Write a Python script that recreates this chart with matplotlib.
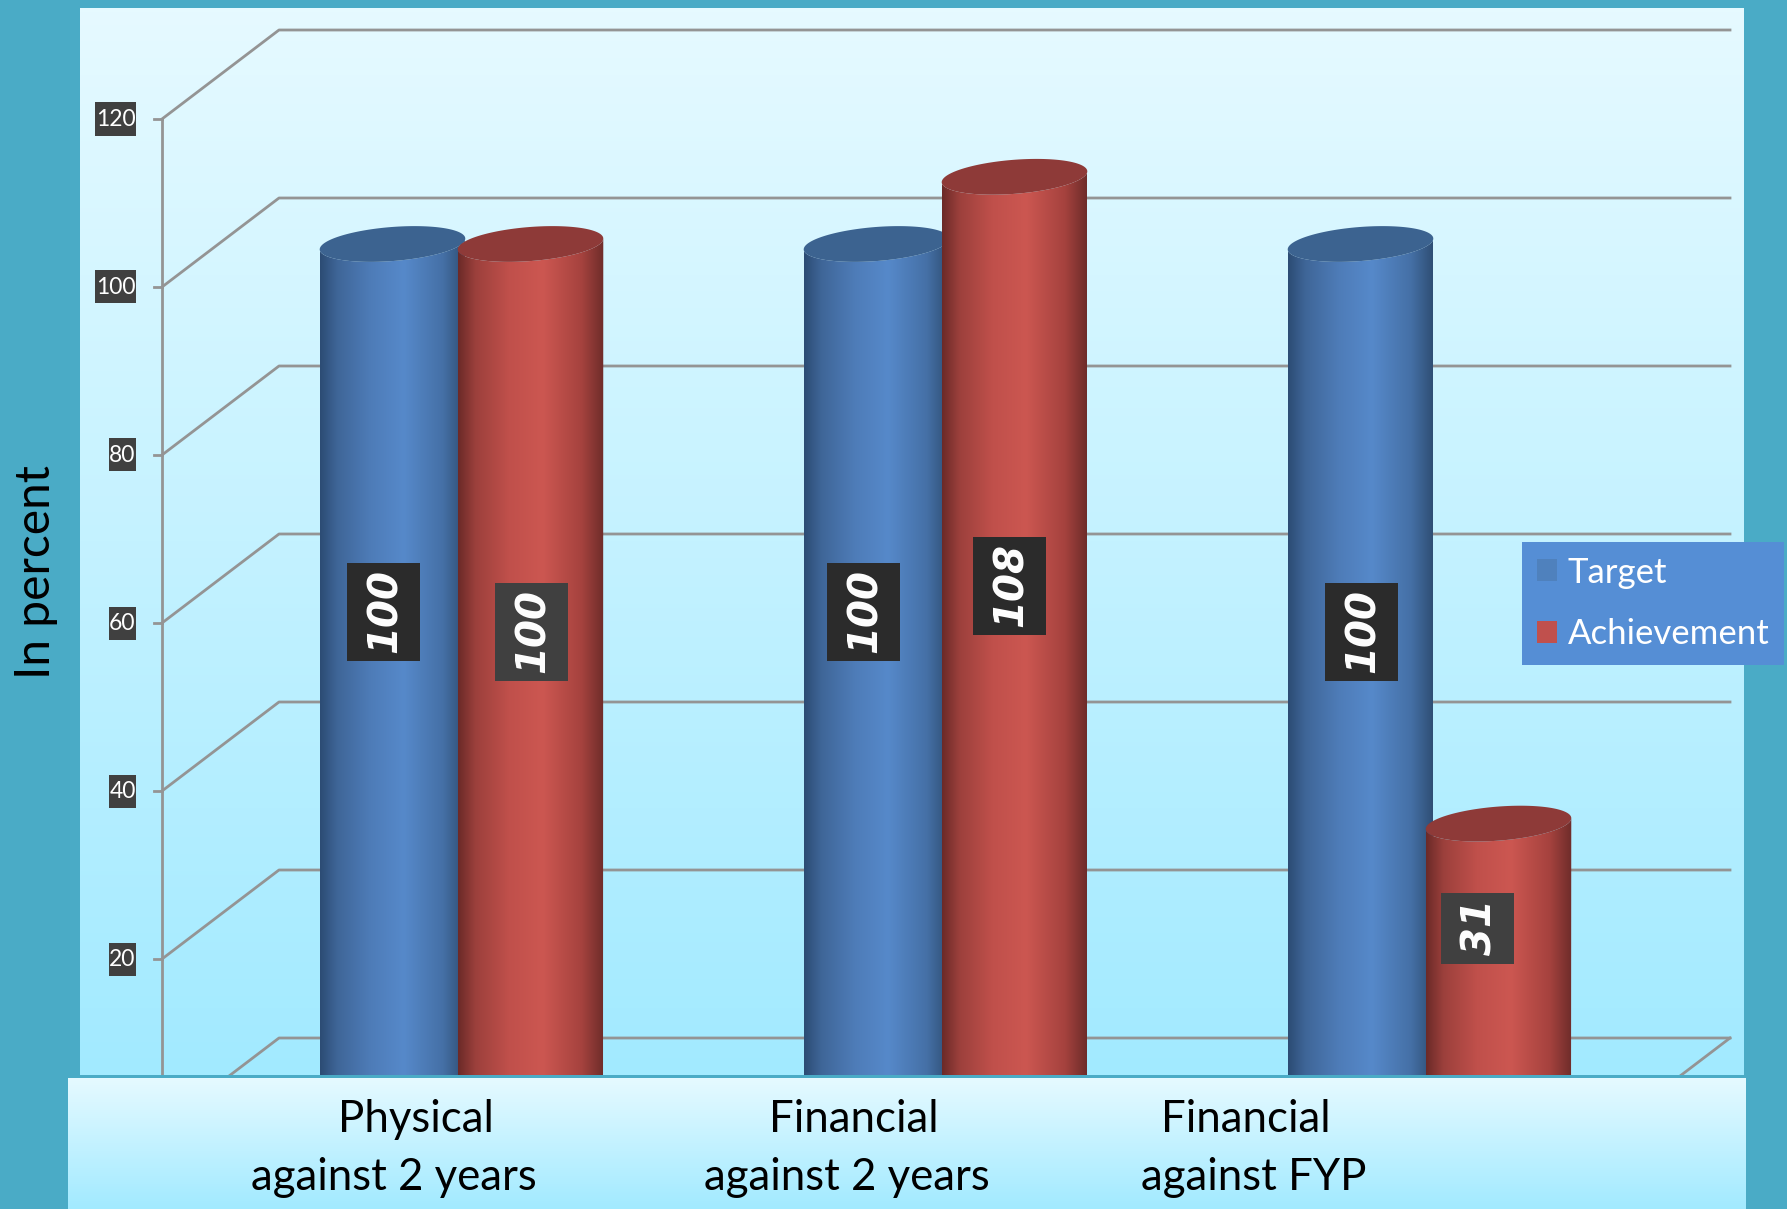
import numpy as np
import matplotlib
matplotlib.use('Agg')
import matplotlib.pyplot as plt
from matplotlib.colors import LinearSegmentedColormap
from matplotlib.patches import Patch, Polygon, Rectangle

categories = [('Physical', 'against 2 years'), ('Financial', 'against 2 years'), ('Financial', 'against FYP')]
target = [100, 100, 100]
achievement = [100, 108, 31]
ticks = [20, 40, 60, 80, 100, 120]
grid_levels = [0, 20, 40, 60, 80, 100, 120]
series_names = ['Target', 'Achievement']
ylabel = 'In percent'

W, H = 1787, 1209
PX_GROUP = 484.0     # pixels between groups
PX_UNIT = 8.4        # pixels for one percent
X0_PX = 461.5        # pixel centre of first group
Y0_PX = 1127.0       # front plane zero
BAR_W = 145 / PX_GROUP
BAR_OFF = 69 / PX_GROUP
MID_DY = 43 / PX_UNIT   # bars stand half way into the depth
BACK_DY = 89 / PX_UNIT

plt.rcParams['font.family'] = ['Lato', 'DejaVu Sans']

fig = plt.figure(figsize=(W / 100, H / 100), dpi=100, facecolor='#4AABC6')

panel_cm = LinearSegmentedColormap.from_list('panel', ['#E6FAFF', '#A2EAFF'])
blue_cm = LinearSegmentedColormap.from_list('blue', [(0, '#2C4C74'), (0.12, '#3F6698'), (0.35, '#4E7CB8'),
                                                     (0.58, '#5689CA'), (0.85, '#4570A6'), (1, '#2F4F75')])
red_cm = LinearSegmentedColormap.from_list('red', [(0, '#6B2A28'), (0.12, '#9C403C'), (0.35, '#C0504B'),
                                                   (0.58, '#CC5751'), (0.85, '#A5423E'), (1, '#6E2C2A')])
grad = np.linspace(0, 1, 256)

# background panel, pixel coordinates
bg = fig.add_axes([0, 0, 1, 1], zorder=1)
bg.axis('off')
bg.imshow(grad.reshape(-1, 1), cmap=panel_cm, extent=(80, 1744, 1075, 8), aspect='auto', vmin=0, vmax=1)
bg.set_xlim(0, W)
bg.set_ylim(H, 0)

# chart, x in groups and y in percent
ax = fig.add_axes([0, 0, 1, 1], zorder=2)
ax.patch.set_alpha(0)
ax.axis('off')
xlim = (-X0_PX / PX_GROUP, (W - X0_PX) / PX_GROUP)
ylim = ((Y0_PX - H) / PX_UNIT, Y0_PX / PX_UNIT)

grid_c = '#949494'
x_front = (162 - X0_PX) / PX_GROUP
x_back = (279 - X0_PX) / PX_GROUP
x_right = (1730 - X0_PX) / PX_GROUP
for lev in grid_levels:
    ax.plot([x_front, x_back, x_right], [lev, lev + BACK_DY, lev + BACK_DY], color=grid_c, lw=2, zorder=1)
ax.plot([x_right, x_right - 117 / PX_GROUP], [BACK_DY, 0], color=grid_c, lw=2, zorder=1)
ax.plot([x_front, x_front], [0, ticks[-1]], color=grid_c, lw=2, zorder=1)
for t in ticks:
    ax.plot([x_front - 8 / PX_GROUP, x_front], [t, t], color=grid_c, lw=2, zorder=1)
    # dark box behind each tick label
    box_w = (41 if t >= 100 else 27) / PX_GROUP
    box_r = x_front - 26 / PX_GROUP
    ax.add_patch(Rectangle((box_r - box_w, t - 16.5 / PX_UNIT), box_w, 33 / PX_UNIT,
                           facecolor='#404040', edgecolor='none', zorder=4))
    ax.text(box_r - box_w / 2, t - 0.1, str(t), color='white', fontsize=16.5, ha='center', va='center', zorder=5)


def top_ellipse(xc, val):
    t = np.linspace(0, 2 * np.pi, 181)
    a, b, th = 73.0, 17.0, np.radians(4.5)
    ex = a * np.cos(t) * np.cos(th) + b * np.sin(t) * np.sin(th)
    ey = -a * np.cos(t) * np.sin(th) + b * np.sin(t) * np.cos(th)
    return xc + ex / PX_GROUP, val + MID_DY - ey / PX_UNIT


def cylinder(xc, val, cmap, top_color, z):
    ex, ey = top_ellipse(xc, val)
    left, right = xc - BAR_W / 2, xc + BAR_W / 2
    im = ax.imshow(grad.reshape(1, -1), cmap=cmap, aspect='auto', zorder=z, vmin=0, vmax=1,
                   extent=(left, right, 0, val + MID_DY + 4))
    # body ends on the lower arc of the top ellipse
    pts = np.column_stack([ex, ey])
    i_l, i_r = np.argmin(ex[:-1]), np.argmax(ex[:-1])
    n = len(ex) - 1
    order = np.arange(i_r, i_l + n + 1) % n if i_l < i_r else np.arange(i_r, i_l + 1)
    arc = pts[order]
    if arc[:, 1].mean() > val + MID_DY:
        arc = pts[np.arange(i_l, i_r + n + 1) % n][::-1]
    body = np.vstack([[right, 0], arc, [left, 0]])
    clip = Polygon(body, closed=True, transform=ax.transData, facecolor='none', edgecolor='none')
    ax.add_patch(clip)
    im.set_clip_path(clip)
    ax.add_patch(Polygon(pts, closed=True, facecolor=top_color, edgecolor='none', zorder=z + 0.1))


for i in range(len(categories)):
    cylinder(i - BAR_OFF, target[i], blue_cm, '#3C6390', 2 + i)
for i in range(len(categories)):
    cylinder(i + BAR_OFF, achievement[i], red_cm, '#8E3A38', 2.5 + i)

ax.set_xlim(xlim)
ax.set_ylim(ylim)

# bottom panel, labels and legend sit over the bars
front = fig.add_axes([0, 0, 1, 1], zorder=3)
front.patch.set_alpha(0)
front.axis('off')
front.imshow(grad.reshape(-1, 1), cmap=panel_cm, extent=(68, 1746, 1209, 1077), aspect='auto', vmin=0, vmax=1)
front.add_patch(Rectangle((68, 1075), 1678, 2.5, facecolor='#4AABC6', edgecolor='none'))
front.set_xlim(0, W)
front.set_ylim(H, 0)

label_xy = [(383, 612), (531, 632), (863, 612), (1009, 586), (1361, 632), (1477, 928)]
label_vals = [target[0], achievement[0], target[1], achievement[1], target[2], achievement[2]]
label_bg = ['#2B2B2B', '#404040', '#2B2B2B', '#2B2B2B', '#2B2B2B', '#404040']
label_h = [98, 98, 98, 98, 98, 71]
for (px, py), v, c, h in zip(label_xy, label_vals, label_bg, label_h):
    front.add_patch(Rectangle((px - 36.5, py - h / 2), 73, h, facecolor=c, edgecolor='none'))
    front.text(px + 3, py - 1, str(v), color='white', fontsize=29, fontweight='bold', fontstyle='italic',
               family=['DejaVu Sans'], rotation=90, ha='center', va='center')

cat_pos = [((416, 1119), (394, 1177)), ((854, 1119), (847, 1177)), ((1246, 1119), (1254, 1177))]
for (l1, l2), (p1, p2) in zip(categories, cat_pos):
    front.text(p1[0], p1[1], l1, color='black', fontsize=31.5, ha='center', va='center')
    front.text(p2[0], p2[1], l2, color='black', fontsize=31.5, ha='center', va='center')

front.text(36, 572, ylabel, color='black', fontsize=34.5, rotation=90, ha='center', va='center')

handles = [Patch(facecolor='#4F81BD', edgecolor='none'), Patch(facecolor='#C0504D', edgecolor='none')]
leg = front.legend(handles, series_names, loc='upper left', bbox_to_anchor=(1522, 542),
                   bbox_transform=front.transData, fontsize=25, labelcolor='white', frameon=True,
                   facecolor='#558ED5', edgecolor='none', fancybox=False, framealpha=1,
                   borderaxespad=0, handlelength=0.6, handleheight=0.6, handletextpad=0.3,
                   labelspacing=0.85, borderpad=0.42)

fig.savefig('out.png', dpi=100, facecolor=fig.get_facecolor())
